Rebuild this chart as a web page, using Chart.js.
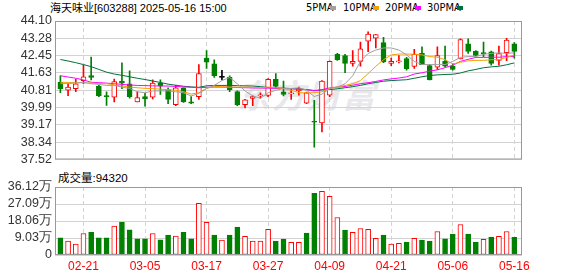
<!DOCTYPE html>
<html>
<head>
<meta charset="utf-8">
<script src="https://cdn.jsdelivr.net/npm/chart.js@4.4.0/dist/chart.umd.min.js"></script>
<style>
body{margin:0;background:#fff;}
#wrap{position:relative;width:578px;height:276px;overflow:hidden;font-family:"Liberation Sans","Noto Sans CJK SC",sans-serif;}
.t{position:absolute;white-space:nowrap;color:#000;line-height:14px;}
.lg{position:absolute;top:1px;font:11px/14px "Liberation Sans Narrow","DejaVu Sans Condensed",sans-serif;color:#000;}
.bx{position:absolute;top:6px;width:6px;height:4px;}
.wm{position:absolute;left:237px;top:76px;font:italic bold 33px/36px "Noto Sans CJK SC",sans-serif;color:#e8e8ec;letter-spacing:2px;}
canvas{position:absolute;left:0;}
</style>
</head>
<body>
<div id="wrap">
  <div class="wm">东方财富</div>
  <div class="t" style="left:50px;top:1px;font-size:11px;">海天味业[603288] 2025-05-16 15:00</div>
  <div class="lg" style="left:306px;">5PMA</div><div class="bx" style="left:330px;background:#a0a0a0;"></div>
  <div class="lg" style="left:343px;">10PMA</div><div class="bx" style="left:373px;background:#f5a000;"></div>
  <div class="lg" style="left:385px;">20PMA</div><div class="bx" style="left:415px;background:#ff00ff;"></div>
  <div class="lg" style="left:427px;">30PMA</div><div class="bx" style="left:457px;background:#00703c;"></div>
  <div class="t" style="left:58px;top:171px;font-size:11.5px;">成交量:94320</div>
  <canvas id="priceChart" width="578" height="170" style="top:0"></canvas>
  <canvas id="volChart" width="578" height="106" style="top:170px"></canvas>
</div>
<script>
// trading days shown
const dates = [
  "02-18","02-19","02-20","02-21","02-24","02-25","02-26","02-27","02-28","03-03",
  "03-04","03-05","03-06","03-07","03-10","03-11","03-12","03-13","03-14","03-17",
  "03-18","03-19","03-20","03-21","03-24","03-25","03-26","03-27","03-28","03-31",
  "04-01","04-02","04-03","04-07","04-08","04-09","04-10","04-11","04-14","04-15",
  "04-16","04-17","04-18","04-21","04-22","04-23","04-24","04-25","04-28","04-29",
  "04-30","05-06","05-07","05-08","05-09","05-12","05-13","05-14","05-15","05-16"
];
const xTickDates = ["02-21","03-05","03-17","03-27","04-09","04-21","05-06","05-16"];

const openP = [
  41.19,40.81,40.89,41.27,41.51,41.01,40.56,40.48,41.24,41.12,
  40.26,40.51,40.48,41.15,40.84,40.12,40.92,40.26,40.51,42.34,
  42.06,41.42,41.42,40.75,40.13,40.42,40.54,40.57,41.33,40.74,
  40.63,40.78,40.20,39.32,39.26,40.58,42.52,42.46,42.08,42.18,
  43.14,43.28,43.07,42.09,42.16,42.32,41.94,42.56,41.98,41.91,
  42.18,41.95,42.30,43.02,42.66,42.59,42.64,42.23,42.59,43.02
];
const highP = [
  41.50,41.12,41.33,42.00,42.38,41.04,40.74,41.34,42.11,41.73,
  40.74,40.66,41.31,41.31,40.93,41.04,40.93,40.51,42.03,42.70,
  42.26,41.76,41.50,40.78,40.38,40.54,40.69,41.37,41.60,41.24,
  40.89,40.96,40.72,40.33,41.27,42.21,42.56,42.52,42.69,43.10,
  43.58,43.46,43.33,42.34,42.46,42.37,42.76,42.87,42.03,42.87,
  42.91,42.06,43.25,43.25,42.69,43.10,42.67,42.91,43.28,43.07
];
const lowP = [
  40.69,40.55,40.74,41.12,41.30,40.51,40.09,40.25,40.89,40.43,
  40.26,40.05,40.40,40.61,40.17,40.08,40.23,40.17,40.38,41.85,
  41.42,41.30,40.74,40.08,39.97,40.08,40.43,40.51,40.92,40.54,
  40.38,40.58,40.17,38.10,38.83,40.51,42.23,41.65,41.95,41.95,
  42.64,42.82,42.12,41.98,42.11,41.76,41.85,42.02,41.30,41.80,
  41.92,41.76,42.30,42.56,42.43,42.41,42.00,42.00,42.21,42.34
];
const closeP = [
  40.89,40.96,41.12,41.45,41.42,40.55,40.50,41.22,41.15,40.51,
  40.46,40.40,41.15,41.01,40.38,40.92,40.25,40.20,41.60,42.14,
  41.50,41.42,40.84,40.11,40.35,40.51,40.56,41.33,40.99,40.61,
  40.69,40.89,40.69,39.29,41.24,42.18,42.26,42.08,42.18,42.78,
  43.48,43.46,42.15,42.18,42.18,41.83,42.52,42.03,41.30,42.46,
  41.95,41.80,43.22,42.66,42.46,42.55,42.08,42.55,43.19,42.66
];

const ma5 = [
  41.12,41.13,41.15,41.19,41.12,41.09,41.04,41.04,40.96,40.89,
  40.74,40.69,40.78,40.78,40.78,40.74,40.69,40.54,40.66,40.89,
  41.04,41.27,41.42,41.12,40.78,40.54,40.43,40.69,40.81,40.89,
  40.89,40.93,40.81,40.51,40.63,40.89,40.96,41.12,41.50,42.18,
  42.56,42.72,42.82,42.82,42.72,42.49,42.18,42.03,42.03,42.03,
  42.03,42.18,42.37,42.41,42.41,42.52,42.56,42.59,42.56,42.59
];
const ma10 = [
  41.19,41.18,41.17,41.16,41.15,41.13,41.12,41.07,41.01,40.96,
  40.93,40.90,40.89,40.86,40.84,40.81,40.74,40.63,40.69,40.90,
  40.99,40.98,40.96,40.96,40.96,40.95,40.93,40.96,40.93,40.89,
  40.81,40.69,40.69,40.69,40.74,40.89,40.96,41.04,41.12,41.27,
  41.60,41.95,42.26,42.49,42.53,42.53,42.52,42.49,42.41,42.38,
  42.26,42.06,42.14,42.21,42.23,42.23,42.26,42.26,42.37,42.49
];
const ma20 = [
  41.50,41.44,41.38,41.30,41.19,41.17,41.15,41.12,41.09,41.06,
  41.04,41.03,41.02,41.01,41.01,40.99,40.97,40.95,40.93,40.95,
  40.96,40.96,40.95,40.94,40.93,40.92,40.91,40.91,40.90,40.89,
  40.88,40.86,40.84,40.78,40.84,40.92,40.96,40.99,41.05,41.12,
  41.17,41.23,41.30,41.35,41.39,41.45,41.58,41.64,41.72,41.78,
  41.88,42.00,42.18,42.28,42.37,42.37,42.38,42.38,42.41,42.41
];
const ma30 = [
  42.27,42.20,42.12,42.03,41.93,41.80,41.67,41.58,41.52,41.45,
  41.38,41.32,41.25,41.18,41.10,41.05,41.00,40.97,40.95,41.02,
  41.04,41.04,41.04,41.03,41.02,41.01,40.98,40.94,40.92,40.91,
  40.89,40.87,40.84,40.80,40.82,40.84,40.88,40.93,40.98,41.04,
  41.12,41.18,41.24,41.27,41.29,41.31,41.38,41.45,41.51,41.54,
  41.56,41.57,41.63,41.73,41.80,41.88,41.92,41.95,42.02,42.11
];

const volumes = [
  91000,74000,58000,114000,121000,91000,91000,153000,174000,134000,
  86000,86000,114000,81000,106000,100000,121000,86000,275000,174000,
  106000,79000,106000,148000,99000,74000,74000,137000,74000,84000,
  67000,67000,116000,327000,338000,312000,199000,132000,120000,141000,
  137000,88000,106000,58000,62000,69000,88000,79000,74000,125000,
  86000,111000,162000,111000,69000,83000,95000,99000,125000,94320
];
// 1 = closed above previous close (red), 0 = below (green)
const volUp = [
  0,1,1,1,0,0,0,1,0,0, 0,0,1,0,0,1,0,0,1,1,
  0,1,0,0,1,1,1,1,0,0, 1,1,0,0,1,1,1,0,1,1,
  1,1,0,1,1,0,1,0,0,1, 0,0,1,0,0,1,0,1,1,0
];

const priceTicks = [37.52,38.34,39.17,39.99,40.81,41.63,42.45,43.28,44.10];
const volTicks = [0,90300,180600,270900,361200];
const volTickLabels = ["0","9.03万","18.06万","27.09万","36.12万"];

const upColor = "#ff0000";
const downColor = "#008000";
const gridColor = "#d3d3d3";
const tickIdx = xTickDates.map(d => dates.indexOf(d));

const xy = arr => arr.map((v, i) => ({x: i, y: v}));
const candleColor = closeP.map((c, i) =>
  c > openP[i] ? upColor : (c < openP[i] ? downColor : "#000"));

const frame = {
  id: "frame",
  afterDraw(chart) {
    const {ctx, chartArea: a} = chart;
    ctx.save();
    ctx.strokeStyle = "#999";
    ctx.lineWidth = 1;
    ctx.strokeRect(a.left + 0.5, a.top + 0.5, a.right - a.left - 1, a.bottom - a.top - 1);
    ctx.restore();
  }
};

const tickFont = {family: "Liberation Sans", size: 12.5};

function xAxis(showLabels) {
  return {
    type: "linear", min: -0.7, max: 60, offset: false,
    afterBuildTicks: s => { s.ticks = tickIdx.map(v => ({value: v})); },
    afterFit: s => { s.height = showLabels ? 21 : 0; },
    ticks: {
      display: showLabels, autoSkip: false, maxRotation: 0, padding: 4,
      color: upColor, font: {family: "Liberation Sans", size: 12},
      callback: v => dates[v]
    },
    grid: {color: gridColor, drawTicks: false, offset: false},
    border: {display: false, dash: [4, 3]}
  };
}

function yAxis(min, max, ticks, labelOf) {
  return {
    min: min, max: max,
    afterBuildTicks: s => { s.ticks = ticks.map(v => ({value: v})); },
    afterFit: s => { s.width = 55; },
    ticks: {color: "#333", font: tickFont, padding: 3, autoSkip: false,
            callback: (v, i) => labelOf(i)},
    grid: {color: gridColor, drawTicks: false},
    border: {display: false}
  };
}

const maLine = (data, color) => ({
  type: "line", data: xy(data), borderColor: color, borderWidth: 1,
  pointRadius: 0, tension: 0, order: 0
});

new Chart(document.getElementById("priceChart"), {
  type: "bar",
  data: {
    datasets: [
      maLine(ma5, "#a0a0a0"),
      maLine(ma10, "#f5a000"),
      maLine(ma20, "#ff00ff"),
      maLine(ma30, "#00703c"),
      {
        data: openP.map((o, i) => ({x: i, y: [o, closeP[i]]})),
        backgroundColor: candleColor.map(c => c === upColor ? "#fff" : c),
        borderColor: candleColor, borderWidth: 1, borderSkipped: false,
        barThickness: 5, grouped: false, minBarLength: 1, order: 1
      },
      {
        data: lowP.map((l, i) => ({x: i, y: [l, highP[i]]})),
        backgroundColor: candleColor, borderWidth: 0,
        barThickness: 1, grouped: false, order: 2
      }
    ]
  },
  options: {
    responsive: false, animation: false, events: [],
    layout: {padding: {top: 21, right: 56, bottom: 5, left: 0}},
    plugins: {legend: {display: false}, tooltip: {enabled: false}},
    scales: {
      x: xAxis(false),
      y: yAxis(37.52, 44.10, priceTicks, i => priceTicks[i].toFixed(2))
    }
  },
  plugins: [frame]
});

new Chart(document.getElementById("volChart"), {
  type: "bar",
  data: {
    datasets: [{
      data: xy(volumes),
      backgroundColor: volUp.map(u => u ? "#fff" : downColor),
      borderColor: volUp.map(u => u ? upColor : downColor),
      borderWidth: 1, borderSkipped: false, barThickness: 5, grouped: false
    }]
  },
  options: {
    responsive: false, animation: false, events: [],
    layout: {padding: {top: 17, right: 56, bottom: 0, left: 0}},
    plugins: {legend: {display: false}, tooltip: {enabled: false}},
    scales: {
      x: xAxis(true),
      y: yAxis(0, 361200, volTicks, i => volTickLabels[i])
    }
  },
  plugins: [frame]
});
</script>
</body>
</html>
